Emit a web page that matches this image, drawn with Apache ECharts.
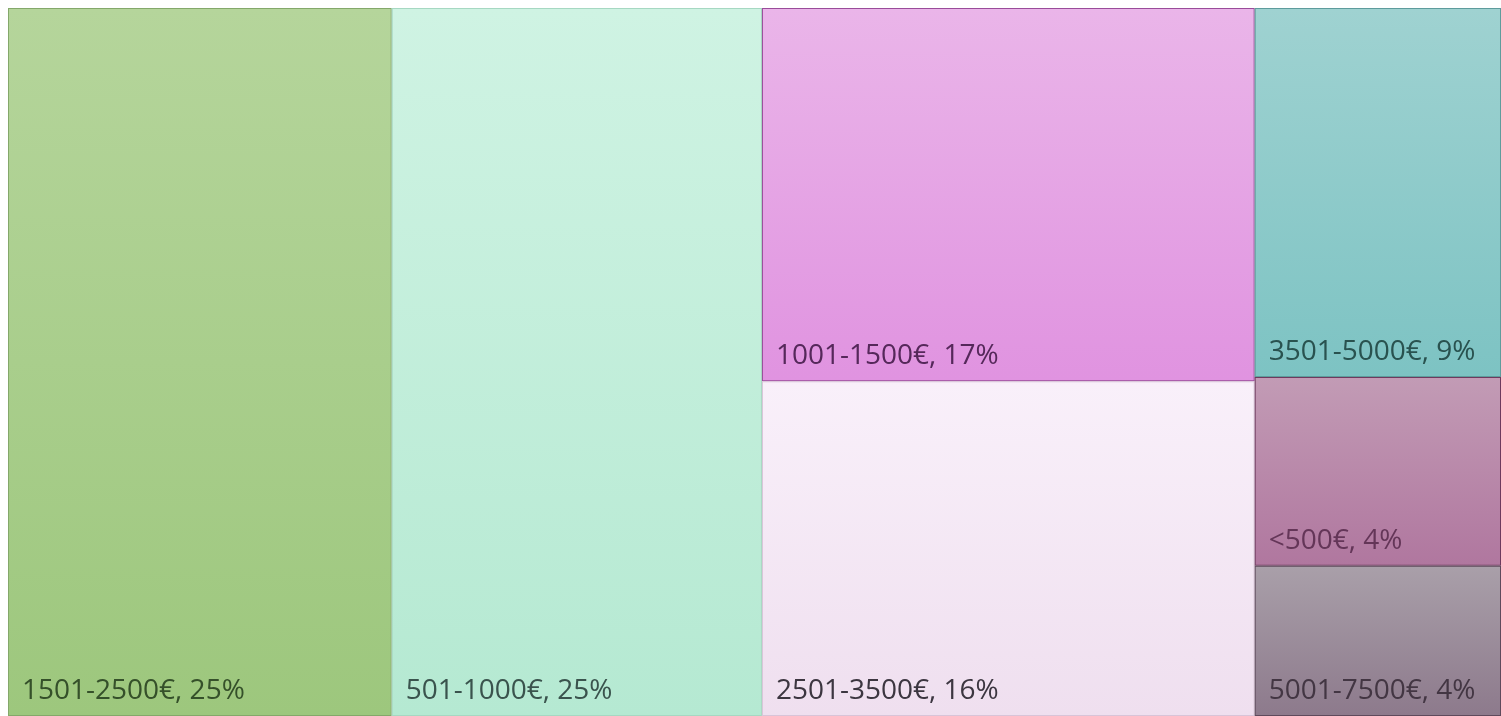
<!DOCTYPE html>
<html>
<head>
<meta charset="utf-8">
<title>Treemap</title>
<script src="https://cdn.jsdelivr.net/npm/echarts@6/dist/echarts.min.js"></script>
<style>
  html, body { margin: 0; padding: 0; background: #fff; }
  #chart { width: 1501px; height: 716px; }
</style>
</head>
<body>
<div id="chart"></div>
<script>
// income bands and their share (area)
const categories = ['1501-2500€', '501-1000€', '1001-1500€', '2501-3500€', '3501-5000€', '<500€', '5001-7500€']
const shares = [25.7, 24.8, 17.4, 15.6, 8.6, 4.4, 3.5]
const percentLabels = [25, 25, 17, 16, 9, 4, 4]

// gradient top / bottom, border and text colour per cell
const topColors = ['#b5d59b', '#cff3e3', '#eab5e9', '#f9f0fa', '#9fd2d1', '#c29bb5', '#a99fa9']
const bottomColors = ['#9dc77d', '#b5e9d2', '#e093e0', '#efdfef', '#7dc3c3', '#b0779f', '#8d7a8c']
const borderColors = ['#84a86a', '#a6d8c2', '#9a4c9a', '#d8c4d8', '#5e9c9c', '#6e3a5e', '#5e4a5c']
const textColors = ['#35502a', '#3a534d', '#55285a', '#3c3640', '#29524f', '#643658', '#433643']

const chart = echarts.init(document.getElementById('chart'))

const data = categories.map((name, i) => ({
  name: name,
  value: shares[i],
  pct: percentLabels[i],
  itemStyle: {
    borderColor: borderColors[i],
    color: {
      type: 'linear',
      x: 0, y: 0, x2: 0, y2: 1,
      colorStops: [
        { offset: 0, color: topColors[i] },
        { offset: 1, color: bottomColors[i] }
      ]
    }
  },
  label: { color: textColors[i] }
}))

chart.setOption({
  animation: false,
  series: [
    {
      type: 'treemap',
      left: 8,
      top: 8,
      right: 0,
      bottom: 0,
      roam: false,
      nodeClick: false,
      squareRatio: 1,
      breadcrumb: { show: false },
      sort: 'desc',
      levels: [
        {
          itemStyle: {
            borderWidth: 0,
            gapWidth: 0
          }
        }
      ],
      itemStyle: {
        borderWidth: 1,
        gapWidth: 0
      },
      label: {
        show: true,
        position: 'insideBottomLeft',
        distance: 0,
        padding: [0, 0, 10, 13],
        fontFamily: 'Open Sans',
        fontSize: 28,
        formatter: p => p.name + ', ' + p.data.pct + '%'
      },
      data: data
    }
  ]
})
</script>
</body>
</html>
